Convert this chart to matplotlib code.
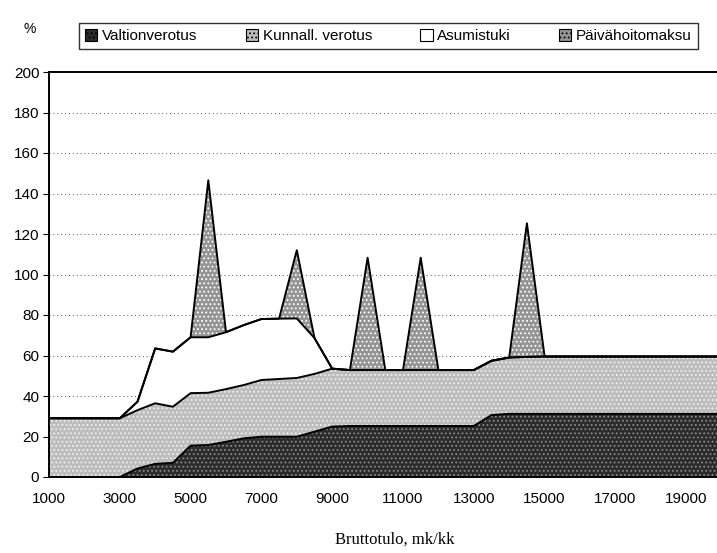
import numpy as np
import matplotlib.pyplot as plt
from matplotlib.patches import Patch

plt.rcParams['font.family'] = ['Liberation Sans', 'DejaVu Sans']
plt.rcParams['hatch.linewidth'] = 0.8

## gross monthly income, mk/kk
tulo = [1000, 1500, 2000, 2500, 3000, 3500, 4000, 4500, 5000, 5500,
        6000, 6500, 7000, 7500, 8000, 8500, 9000, 9500, 10000, 10500,
        11000, 11500, 12000, 12500, 13000, 13500, 14000, 14500, 15000, 15500,
        16000, 16500, 17000, 17500, 18000, 18500, 19000, 19500, 20000]

## marginal effects, % (stacked)
valtion = [0, 0, 0, 0, 0, 4.2, 6.5, 7.0, 15.5, 15.8,
           17.4, 19.1, 19.9, 19.9, 19.9, 22.4, 24.9, 25.2, 25.2, 25.2,
           25.2, 25.2, 25.2, 25.2, 25.2, 30.6, 31.2, 31.2, 31.2, 31.2,
           31.2, 31.2, 31.2, 31.2, 31.2, 31.2, 31.2, 31.2, 31.2]
kunnall = [29, 29, 29, 29, 29, 28.8, 29.9, 27.7, 25.9, 25.8,
           26.0, 26.3, 28.0, 28.5, 29.0, 28.5, 28.6, 27.6, 27.6, 27.6,
           27.6, 27.6, 27.6, 27.6, 27.6, 26.8, 27.8, 28.1, 28.3, 28.3,
           28.3, 28.3, 28.3, 28.3, 28.3, 28.3, 28.3, 28.3, 28.3]
asumis = [0, 0, 0, 0, 0, 4.2, 27.1, 27.2, 27.6, 27.4,
          28.1, 29.6, 30.1, 29.8, 29.4, 17.7, 0, 0, 0, 0,
          0, 0, 0, 0, 0, 0, 0, 0, 0, 0,
          0, 0, 0, 0, 0, 0, 0, 0, 0]
paiva = [0, 0, 0, 0, 0, 0, 0, 0, 0, 77.5,
         0, 0, 0, 0, 33.7, 0, 0, 0, 55.5, 0,
         0, 55.5, 0, 0, 0, 0, 0, 66.0, 0, 0,
         0, 0, 0, 0, 0, 0, 0, 0, 0]

names = ['Valtionverotus', 'Kunnall. verotus', 'Asumistuki', 'P\u00e4iv\u00e4hoitomaksu']
faces = ['#2b2b2b', '#bdbdbd', 'white', '#959595']
hatch_col = ['#8a8a8a', '#f0f0f0', 'white', '#ffffff']
hatches = ['....', '....', None, '....']

x = np.array(tulo)
layers = [np.array(valtion), np.array(kunnall), np.array(asumis), np.array(paiva)]

fig = plt.figure(figsize=(7.17, 5.53), dpi=100)
ax = fig.add_axes([49/717, 1 - 477/553, 1 - 49/717, (477 - 72)/553])

bottom = np.zeros(len(x))
for i in range(4):
    top = bottom + layers[i]
    ax.fill_between(x, bottom, top, facecolor=faces[i], hatch=hatches[i],
                    edgecolor=hatch_col[i], linewidth=0, zorder=2)
    bottom = top
## outlines of every layer
bottom = np.zeros(len(x))
for i in range(4):
    bottom = bottom + layers[i]
    ax.plot(x, bottom, color='black', lw=1.4, zorder=3)

ax.set_xlim(1000, 19870)
ax.set_ylim(0, 200)
ax.set_yticks(np.arange(0, 201, 20))
ax.set_xticks(np.arange(1000, 19001, 2000))
ax.tick_params(axis='x', length=0, pad=11, labelsize=11)
ax.tick_params(axis='y', length=4, direction='out', labelsize=11, pad=3)
for v in range(20, 200, 20):
    ax.axhline(v, color='#555555', lw=0.7, ls=(0, (1, 3)), zorder=1)
ax.spines['right'].set_visible(False)
for s in ['left', 'bottom', 'top']:
    ax.spines[s].set_linewidth(1.4)

fig.text(30/717, 1 - 29/553, '%', fontsize=10, ha='center', va='center')
fig.text(395/717, 1 - 540/553, 'Bruttotulo, mk/kk', fontsize=12,
         family=['Liberation Serif', 'DejaVu Serif'], ha='center', va='center')

handles = [Patch(facecolor=faces[i], edgecolor='black', hatch=hatches[i], lw=0.8)
           for i in range(4)]
leg = fig.legend(handles, names, loc='center', ncol=4, mode='expand',
                 bbox_to_anchor=(79/717, 1 - 56/553, (698 - 79)/717, 40/553),
                 fontsize=11, handlelength=0.8, handleheight=0.8,
                 handletextpad=0.3, frameon=True, fancybox=False,
                 borderaxespad=0)
leg.get_frame().set_edgecolor('black')
leg.get_frame().set_linewidth(1.0)

fig.savefig('out.png', dpi=100)
